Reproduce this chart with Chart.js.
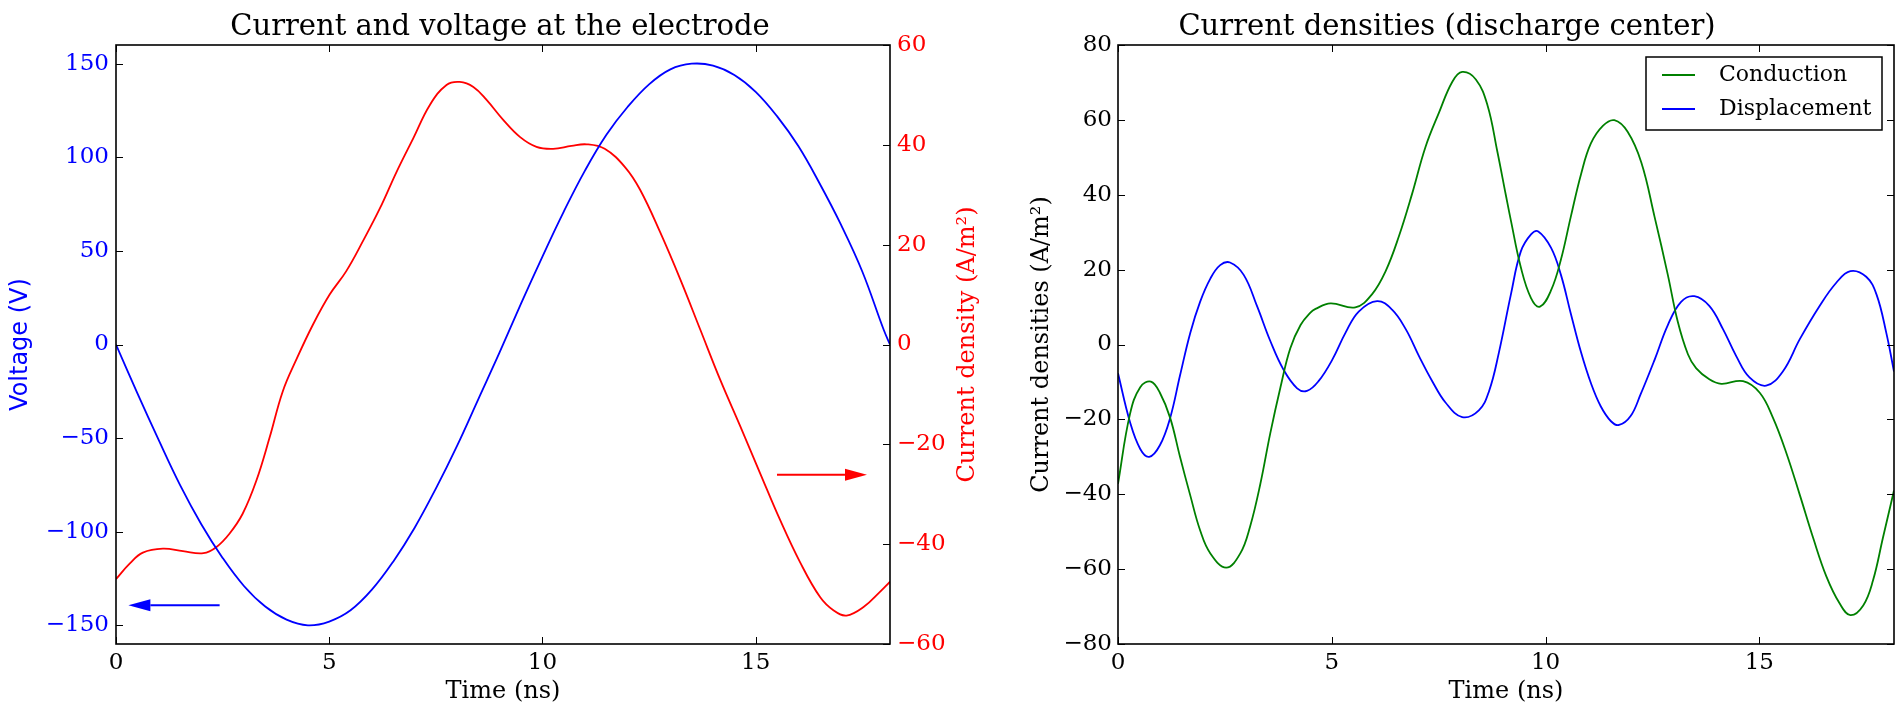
<!DOCTYPE html>
<html>
<head>
<meta charset="utf-8">
<script src="https://cdn.jsdelivr.net/npm/chart.js@4/dist/chart.umd.min.js"></script>
<style>
  body { margin: 0; background: #fff; width: 1896px; height: 707px; overflow: hidden; }
  .box { position: absolute; top: 0; height: 707px; }
</style>
</head>
<body>
<div class="box" style="left:0;width:1000px"><canvas id="left" width="1000" height="707"></canvas></div>
<div class="box" style="left:1000px;width:896px"><canvas id="right" width="896" height="707"></canvas></div>
<script>
// time axis (ns)
const tMax = 18.15;
const tickX = [0, 5, 10, 15];
const tickVolt = [-150, -100, -50, 0, 50, 100, 150];
const tickJ = [-60, -40, -20, 0, 20, 40, 60];
const tickDens = [-80, -60, -40, -20, 0, 20, 40, 60, 80];

// electrode voltage (V)
const timeVolt = [0, 0.5, 1, 1.5, 2, 2.5, 3, 3.5, 4, 4.5, 5, 5.5, 6, 6.5, 7, 7.5, 8, 8.5, 9,
  9.5, 10, 10.5, 11, 11.5, 12, 12.5, 13, 13.5, 14, 14.5, 15, 15.5, 16, 16.5, 17, 17.5, 18, 18.15];
const voltage = [0, -26, -51, -75, -96, -114, -129, -140, -147, -150, -148, -142, -131, -116, -98, -77, -54, -29, -4,
  22, 47, 71, 93, 112, 127, 139, 147, 150, 149, 144, 135, 122, 106, 86, 64, 39, 8, 0];

// electrode current density (A/m2)
const timeJ = [0, 0.32, 0.63, 1.10, 1.57, 2.05, 2.35, 2.66, 2.97, 3.29, 3.60, 3.91, 4.23, 4.62, 5.01,
  5.40, 5.79, 6.19, 6.58, 6.97, 7.36, 7.75, 8.06, 8.38, 8.69, 9.08, 9.47, 9.86, 10.25, 10.68, 11.04,
  11.46, 11.94, 12.29, 12.76, 13.23, 13.70, 14.17, 14.64, 15.10, 15.57, 16.04, 16.51, 16.83, 17.13,
  17.53, 17.92, 18.15];
const currentJ = [-47.0, -43.9, -41.7, -40.9, -41.4, -41.8, -40.6, -37.9, -33.9, -27.3, -18.7, -9.4, -3.0, 4.0, 10.0,
  14.7, 20.7, 27.3, 34.6, 41.3, 48.0, 52.0, 52.6, 51.6, 49.0, 45.0, 41.6, 39.6, 39.2, 39.8, 40.1,
  39.2, 35.5, 31.0, 22.5, 13.1, 3.0, -7.1, -16.4, -25.7, -35.1, -43.6, -50.6, -53.3, -54.3,
  -52.6, -49.5, -47.5];

// discharge center: conduction current density
const timeCond = [0, 0.28, 0.52, 0.77, 0.98, 1.22, 1.45, 1.69, 1.92, 2.16, 2.53, 2.86, 3.09, 3.33, 3.56,
  3.80, 4.03, 4.27, 4.50, 4.62, 4.97, 5.55, 5.94, 6.26, 6.57, 6.88, 7.19, 7.51, 7.82, 8.05,
  8.37, 8.64, 8.87, 9.07, 9.19, 9.42, 9.66, 9.87, 10.13, 10.36, 10.59, 10.83, 11.06, 11.34, 11.61,
  11.92, 12.24, 12.55, 12.86, 13.09, 13.33, 13.52, 13.83, 14.11, 14.62, 15.01, 15.32, 15.63, 15.95,
  16.26, 16.57, 16.88, 17.13, 17.43, 17.66, 17.89, 18.15];
const conduction = [-37.2, -18.6, -11.4, -9.9, -12.9, -19.6, -30.0, -40.3, -49.6, -55.8, -59.6, -55.8, -48.6, -37.2, -23.8,
  -11.4, -1.0, 5.2, 8.5, 9.5, 11.0, 9.9, 13.4, 19.6, 28.9, 40.3, 52.7, 62.0, 70.2, 72.8,
  70.8, 64.0, 51.7, 40.0, 33.1, 20.7, 12.4, 10.1, 14.5, 22.7, 34.1, 45.5, 53.7, 58.4, 59.9,
  56.8, 48.6, 34.1, 18.6, 6.2, -2.6, -6.3, -9.3, -10.5, -9.8, -12.9, -19.6, -28.9, -40.3,
  -51.7, -62.0, -69.2, -72.3, -69.7, -63.0, -51.7, -39.0];

// discharge center: displacement current density
const timeDisp = [0, 0.28, 0.52, 0.73, 0.98, 1.22, 1.45, 1.69, 1.92, 2.16, 2.39, 2.62, 2.94, 3.25, 3.56,
  3.87, 4.19, 4.42, 4.69, 5.01, 5.32, 5.63, 6.06, 6.41, 6.73, 7.04, 7.35, 7.66, 8.05, 8.44,
  8.68, 8.91, 9.19, 9.42, 9.66, 9.83, 10.13, 10.36, 10.59, 10.83, 11.06, 11.29, 11.53, 11.72, 11.99,
  12.22, 12.55, 12.86, 13.17, 13.48, 13.83, 14.15, 14.46, 14.77, 15.16, 15.55, 15.95, 16.41, 16.80,
  17.13, 17.50, 17.74, 17.97, 18.15];
const displacement = [-7.7, -20.7, -27.9, -30.0, -26.9, -19.6, -8.3, 3.1, 11.4, 17.6, 21.2, 21.9, 18.6, 10.3, 1.0,
  -6.7, -11.7, -12.4, -9.8, -4.1, 3.1, 8.8, 11.6, 9.3, 4.1, -3.1, -9.8, -15.5, -19.4, -17.6,
  -12.4, -2.1, 13.4, 24.8, 29.4, 30.2, 25.8, 18.6, 8.3, -2.1, -10.3, -16.5, -20.5, -21.5, -19.1,
  -13.4, -4.1, 5.2, 11.4, 12.9, 10.3, 4.1, -3.1, -8.8, -11.0, -7.2, 1.5, 10.3, 16.5,
  19.6, 18.1, 13.4, 3.1, -7.2];

// arrows pointing to the axis each curve belongs to: [tail time, tip time], level
const arrowVoltT = [2.43, 0.29];
const arrowVoltY = -139.3;
const arrowJT = [15.5, 17.61];
const arrowJY = -26.1;

const SERIF = '"DejaVu Serif", serif';
const tickFont = { family: SERIF, size: 23, lineHeight: 1.2 };
const labelFont = { family: SERIF, size: 24, lineHeight: 1 };

const pts = (ts, ys) => ts.map((t, i) => ({ x: t, y: ys[i] }));
const fmt = v => (v < 0 ? '\u2212' + Math.abs(v) : '' + v);
const fixTicks = arr => (s => { s.ticks = arr.map(v => ({ value: v })); });

// matplotlib style frame with inward ticks
const framePlugin = {
  id: 'frame',
  afterDatasetsDraw(chart, args, opts) {
    const { ctx, chartArea: a, scales } = chart;
    const len = 7;
    ctx.save();
    ctx.strokeStyle = '#000';
    ctx.lineWidth = 1;
    ctx.beginPath();
    scales.x.ticks.forEach(t => {
      const px = Math.round(scales.x.getPixelForValue(t.value)) + 0.5;
      ctx.moveTo(px, a.bottom); ctx.lineTo(px, a.bottom - len);
      ctx.moveTo(px, a.top); ctx.lineTo(px, a.top + len);
    });
    const l = scales[opts.left], r = scales[opts.right];
    l.ticks.forEach(t => {
      const py = Math.round(l.getPixelForValue(t.value)) + 0.5;
      ctx.moveTo(a.left, py); ctx.lineTo(a.left + len, py);
    });
    r.ticks.forEach(t => {
      const py = Math.round(r.getPixelForValue(t.value)) + 0.5;
      ctx.moveTo(a.right, py); ctx.lineTo(a.right - len, py);
    });
    ctx.stroke();
    ctx.lineWidth = 1.6;
    ctx.strokeRect(a.left, a.top, a.right - a.left, a.bottom - a.top);
    ctx.restore();
  }
};

// arrows + right side label reading bottom to top
const extrasPlugin = {
  id: 'extras',
  afterDatasetsDraw(chart, args, opts) {
    if (!opts.arrows) return;
    const { ctx, scales } = chart;
    const arrow = (scaleY, ts, yv, color) => {
      const x1 = scales.x.getPixelForValue(ts[0]);
      const x2 = scales.x.getPixelForValue(ts[1]);
      const y = scaleY.getPixelForValue(yv);
      const dir = Math.sign(x2 - x1);
      const head = 22;
      ctx.strokeStyle = color; ctx.fillStyle = color; ctx.lineWidth = 2;
      ctx.beginPath(); ctx.moveTo(x1, y); ctx.lineTo(x2 - dir * head, y); ctx.stroke();
      ctx.beginPath();
      ctx.moveTo(x2, y);
      ctx.lineTo(x2 - dir * head, y - 6);
      ctx.lineTo(x2 - dir * head, y + 6);
      ctx.closePath(); ctx.fill();
    };
    ctx.save();
    opts.arrows.forEach(a => arrow(scales[a.axis], a.t, a.y, a.color));
    ctx.restore();
  },
  afterDraw(chart, args, opts) {
    if (!opts.sideLabel) return;
    const { ctx, chartArea: a } = chart;
    ctx.save();
    ctx.translate(a.right + 78, (a.top + a.bottom) / 2);
    ctx.rotate(-Math.PI / 2);
    ctx.fillStyle = opts.sideColor;
    ctx.font = '24px ' + SERIF;
    ctx.textAlign = 'center';
    ctx.textBaseline = 'middle';
    ctx.fillText(opts.sideLabel, 0, 0);
    ctx.restore();
  }
};

// boxed legend inside the plot, upper right
const boxLegend = {
  id: 'boxLegend',
  afterDraw(chart, args, opts) {
    if (!opts.show) return;
    const { ctx, chartArea: a } = chart;
    const w = 236, h = 73;
    const x0 = a.right - 12 - w, y0 = a.top + 12;
    ctx.save();
    ctx.fillStyle = '#fff';
    ctx.fillRect(x0, y0, w, h);
    ctx.strokeStyle = '#000'; ctx.lineWidth = 1.5;
    ctx.strokeRect(x0, y0, w, h);
    ctx.font = '22px ' + SERIF;
    ctx.textBaseline = 'middle';
    chart.data.datasets.forEach((ds, i) => {
      const y = y0 + 18 + i * 34;
      ctx.strokeStyle = ds.borderColor; ctx.lineWidth = ds.borderWidth;
      ctx.beginPath(); ctx.moveTo(x0 + 16, y); ctx.lineTo(x0 + 49, y); ctx.stroke();
      ctx.fillStyle = '#000';
      ctx.fillText(ds.label, x0 + 73, y);
    });
    ctx.restore();
  }
};

const xAxis = () => ({
  type: 'linear', min: 0, max: tMax,
  afterBuildTicks: fixTicks(tickX),
  afterFit: s => { s.height = 63; },
  grid: { display: false, drawTicks: false },
  border: { display: false },
  ticks: { color: '#000', font: tickFont, padding: 5, maxRotation: 0, autoSkip: false, callback: fmt },
  title: { display: true, text: 'Time (ns)', color: '#000', font: labelFont, padding: { top: 0, bottom: 3 } }
});

const line = (label, data, color, axis) => ({
  label: label, data: data, borderColor: color, backgroundColor: color,
  borderWidth: 1.8, pointRadius: 0, tension: 0.4, yAxisID: axis, fill: false
});

Chart.register(framePlugin, extrasPlugin, boxLegend);

new Chart(document.getElementById('left'), {
  type: 'line',
  data: {
    datasets: [
      line('Voltage', pts(timeVolt, voltage), '#0000ff', 'y'),
      line('Current density', pts(timeJ, currentJ), '#ff0000', 'y1')
    ]
  },
  options: {
    responsive: false, animation: false, devicePixelRatio: 1,
    layout: { padding: 0 },
    plugins: {
      legend: { display: false }, tooltip: { enabled: false },
      title: { display: true, text: 'Current and voltage at the electrode', color: '#000',
        font: { family: SERIF, size: 29, weight: 'normal', lineHeight: 1 }, padding: { top: 13, bottom: 3 } },
      frame: { left: 'y', right: 'y1' },
      extras: {
        arrows: [
          { axis: 'y', t: arrowVoltT, y: arrowVoltY, color: '#0000ff' },
          { axis: 'y1', t: arrowJT, y: arrowJY, color: '#ff0000' }
        ],
        sideLabel: 'Current density (A/m\u00b2)', sideColor: '#ff0000'
      },
      boxLegend: { show: false }
    },
    scales: {
      x: xAxis(),
      y: {
        position: 'left', min: -160, max: 160,
        afterBuildTicks: fixTicks(tickVolt),
        afterFit: s => { s.width = 116; },
        grid: { display: false, drawTicks: false }, border: { display: false },
        ticks: { color: '#0000ff', font: tickFont, padding: 7, callback: fmt },
        title: { display: true, text: 'Voltage (V)', color: '#0000ff',
          font: { family: '"DejaVu Sans", sans-serif', size: 24, lineHeight: 1 }, padding: { top: 9, bottom: 0 } }
      },
      y1: {
        position: 'right', min: -60, max: 60,
        afterBuildTicks: fixTicks(tickJ),
        afterFit: s => { s.width = 110; },
        grid: { display: false, drawTicks: false }, border: { display: false },
        ticks: { color: '#ff0000', font: tickFont, padding: 7, callback: fmt }
      }
    }
  }
});

new Chart(document.getElementById('right'), {
  type: 'line',
  data: {
    datasets: [
      line('Conduction', pts(timeCond, conduction), '#008000', 'y'),
      line('Displacement', pts(timeDisp, displacement), '#0000ff', 'y')
    ]
  },
  options: {
    responsive: false, animation: false, devicePixelRatio: 1,
    layout: { padding: { right: 2 } },
    plugins: {
      legend: { display: false }, tooltip: { enabled: false },
      title: { display: true, text: 'Current densities (discharge center)', color: '#000',
        font: { family: SERIF, size: 29, weight: 'normal', lineHeight: 1 }, padding: { top: 13, bottom: 3 } },
      frame: { left: 'y', right: 'y' },
      extras: {},
      boxLegend: { show: true }
    },
    scales: {
      x: xAxis(),
      y: {
        position: 'left', min: -80, max: 80,
        afterBuildTicks: fixTicks(tickDens),
        afterFit: s => { s.width = 118; },
        grid: { display: false, drawTicks: false }, border: { display: false },
        ticks: { color: '#000', font: tickFont, padding: 6, callback: fmt },
        title: { display: true, text: 'Current densities (A/m\u00b2)', color: '#000',
          font: labelFont, padding: { top: 30, bottom: 0 } }
      }
    }
  }
});
</script>
</body>
</html>
